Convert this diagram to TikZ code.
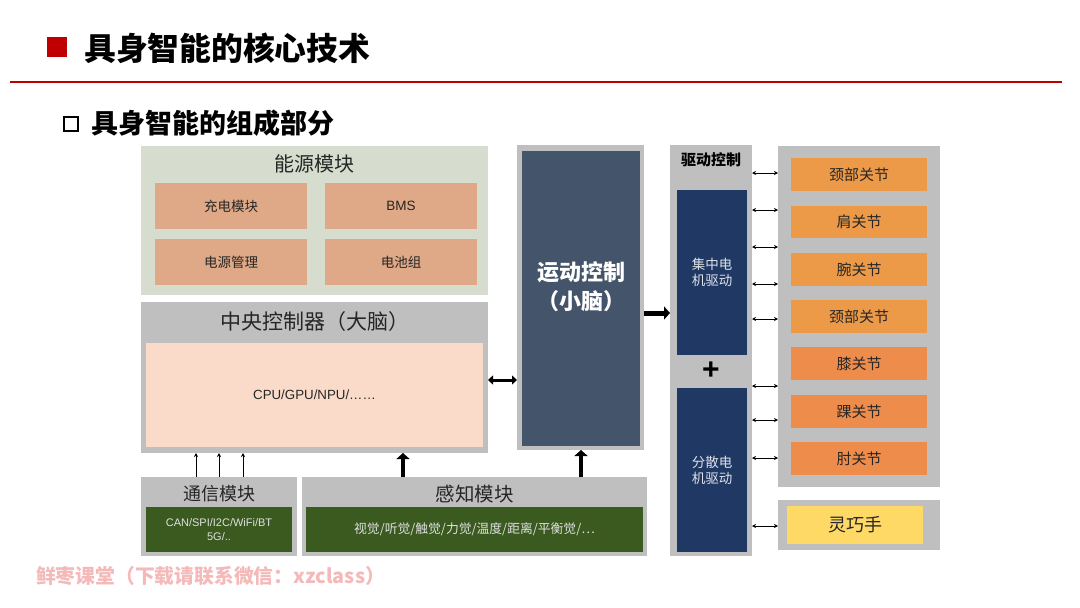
\documentclass[tikz,border=0pt]{standalone}
\usepackage{fontspec}
\setmainfont{Liberation Sans}
\newfontfamily\cjk{Noto Sans CJK SC}
\usetikzlibrary{arrows.meta,calc}
\definecolor{cred}{HTML}{C00000}
\definecolor{cgray}{HTML}{BFBFBF}
\definecolor{cenergy}{HTML}{D6DDCF}
\definecolor{csalmon}{HTML}{DFA886}
\definecolor{cpeach}{HTML}{FADBC9}
\definecolor{cgreen}{HTML}{3A5A20}
\definecolor{cslate}{HTML}{44546A}
\definecolor{cnavy}{HTML}{1F3864}
\definecolor{corangeA}{HTML}{EC9A48}
\definecolor{corangeB}{HTML}{EE8D4B}
\definecolor{cyellow}{HTML}{FFD966}
\definecolor{cwater}{HTML}{F4B9B9}
\definecolor{ctext}{HTML}{262626}
\newcommand\bx[7]{\node[#6, minimum width={(#4-#2)*1pt}, minimum height={(#5-#3)*1pt}] (#1) at ({(#2+#4)/2},{(#3+#5)/2}) {#7};}
\begin{document}
\begin{tikzpicture}[x=1pt,y=-1pt,
  box/.style={inner sep=0pt, outer sep=0pt, draw=none, align=center, text=ctext},
  graybox/.style={box, fill=cgray},
  ttl/.style={inner sep=0pt, outer sep=0pt, text=ctext, font=\cjk\fontsize{20}{24}\selectfont},
  thinarr/.style={line width=0.8pt, -{Stealth[length=4pt,width=4pt]}},
  dblarr/.style={line width=0.8pt, {Stealth[length=4pt,width=4pt]}-{Stealth[length=4pt,width=4pt]}},
  bigarr/.style={line width=4.5pt, -{Triangle[length=6pt,width=13pt]}},
]
\useasboundingbox (0,0) rectangle (1080,608);
\fill[white] (0,0) rectangle (1080,608);

% header
\bx{redsq}{47}{37}{67}{57}{box, fill=cred}{}
\node[inner sep=0pt, anchor=west, font=\cjk\bfseries\fontsize{31.8}{34}\selectfont] (title) at (84,48) {具身智能的核心技术};
\draw[cred, line width=1.5pt] (10,82) -- (1062,82);
\bx{hollow}{64}{117}{78}{131}{box, draw=black, line width=2pt}{}
\node[inner sep=0pt, anchor=west, font=\cjk\bfseries\fontsize{27}{30}\selectfont] (subtitle) at (91,123) {具身智能的组成部分};

% energy module
\bx{energy}{141}{146}{488}{295}{box, fill=cenergy}{}
\node[ttl] (energyT) at (314.5,164) {能源模块};
\bx{charge}{155}{183}{307}{229}{box, fill=csalmon, font=\cjk\fontsize{13.5}{16}\selectfont}{充电模块}
\bx{bms}{325}{183}{477}{229}{box, fill=csalmon, font=\fontsize{13.5}{16}\selectfont}{BMS}
\bx{power}{155}{239}{307}{285}{box, fill=csalmon, font=\cjk\fontsize{13.5}{16}\selectfont}{电源管理}
\bx{battery}{325}{239}{477}{285}{box, fill=csalmon, font=\cjk\fontsize{13.5}{16}\selectfont}{电池组}

% central controller
\bx{central}{141}{302}{488}{453}{graybox}{}
\node[ttl, font=\cjk\fontsize{21}{24}\selectfont] (centralT) at (314.5,322) {中央控制器（大脑）};
\bx{cpu}{146}{343}{483}{447}{box, fill=cpeach, font=\fontsize{13.3}{16}\selectfont}{CPU/GPU/NPU/……}

% communication module
\bx{comm}{141}{477}{297}{556}{graybox}{}
\node[ttl, font=\cjk\fontsize{18}{22}\selectfont] (commT) at (219,494) {通信模块};
\bx{commI}{146}{507}{292}{552}{box, fill=cgreen, text=white!88!black, font=\fontsize{11}{14}\selectfont}{CAN/SPI/I2C/WiFi/BT\\5G/..}

% perception module
\bx{percep}{302}{477}{647}{556}{graybox}{}
\node[ttl, font=\cjk\fontsize{19.5}{22}\selectfont] (percepT) at (474.5,494) {感知模块};
\bx{percepI}{306}{507}{643}{552}{box, fill=cgreen, text=white!88!black, font=\cjk\fontsize{12.8}{14}\selectfont}{视觉/听觉/触觉/力觉/温度/距离/平衡觉/…}

% motion control
\bx{motion}{517}{145}{644}{450}{graybox}{}
\bx{motionI}{522}{151}{640}{446}{box, fill=cslate}{}
\node[inner sep=0pt, align=center, text=white, font=\cjk\bfseries\fontsize{22}{29}\selectfont] (motionT) at (581,287) {运动控制\\（小脑）};

% drive control
\bx{drive}{670}{145}{752}{556}{graybox}{}
\node[inner sep=0pt, font=\cjk\bfseries\fontsize{15}{18}\selectfont] (driveT) at (711,160) {驱动控制};
\bx{central2}{677}{190}{747}{355}{box, fill=cnavy, text=white!85!cnavy, font=\cjk\fontsize{13.5}{16}\selectfont}{集中电\\机驱动}
\node[inner sep=0pt, font=\bfseries\fontsize{30}{30}\selectfont] (plus) at (711,371) {+};
\bx{distrib}{677}{388}{747}{552}{box, fill=cnavy, text=white!85!cnavy, font=\cjk\fontsize{13.5}{16}\selectfont}{分散电\\机驱动}

% joints
\bx{joints}{778}{146}{940}{487}{graybox}{}
\bx{j1}{791}{158}{927}{191}{box, fill=corangeA, font=\cjk\fontsize{15}{18}\selectfont}{颈部关节}
\bx{j2}{791}{206}{927}{238}{box, fill=corangeA, font=\cjk\fontsize{15}{18}\selectfont}{肩关节}
\bx{j3}{791}{253}{927}{286}{box, fill=corangeA, font=\cjk\fontsize{15}{18}\selectfont}{腕关节}
\bx{j4}{791}{300}{927}{333}{box, fill=corangeA, font=\cjk\fontsize{15}{18}\selectfont}{颈部关节}
\bx{j5}{791}{347}{927}{380}{box, fill=corangeB, font=\cjk\fontsize{15}{18}\selectfont}{膝关节}
\bx{j6}{791}{395}{927}{428}{box, fill=corangeB, font=\cjk\fontsize{15}{18}\selectfont}{踝关节}
\bx{j7}{791}{442}{927}{475}{box, fill=corangeB, font=\cjk\fontsize{15}{18}\selectfont}{肘关节}

% hand
\bx{hand}{778}{500}{940}{550}{graybox}{}
\bx{handI}{787}{506}{923}{544}{box, fill=cyellow, font=\cjk\fontsize{18}{20}\selectfont}{灵巧手}

% watermark
\node[inner sep=0pt, anchor=west, text=cwater, font=\cjk\bfseries\fontsize{19.8}{22}\selectfont] (water) at (36,576) {鲜枣课堂（下载请联系微信：xzclass）};

% arrows
\foreach \dx in {55,78,102}
  \draw[thinarr] ([xshift=\dx pt]comm.north west) -- ([xshift=\dx pt]comm.north west |- central.south);
\draw[bigarr] (percep.north -| 403,0) -- (central.south -| 403,0);
\draw[bigarr] (percep.north -| 581,0) -- (motion.south -| 581,0);
\draw[line width=3pt, {Triangle[length=5pt,width=9pt]}-{Triangle[length=5pt,width=9pt]}] (central.east |- 0,380) -- (motion.west |- 0,380);
\draw[line width=5pt, -{Triangle[length=6pt,width=13pt]}] (motion.east |- 0,313) -- (drive.west |- 0,313);
\foreach \yy in {173,210,247,284,319,386,420}
  \draw[dblarr] (drive.east |- 0,\yy) -- (joints.west |- 0,\yy);
\draw[dblarr] (drive.east |- 0,458) -- (joints.west |- 0,458);
\draw[dblarr] (drive.east |- 0,526) -- (hand.west |- 0,526);
\end{tikzpicture}
\end{document}
